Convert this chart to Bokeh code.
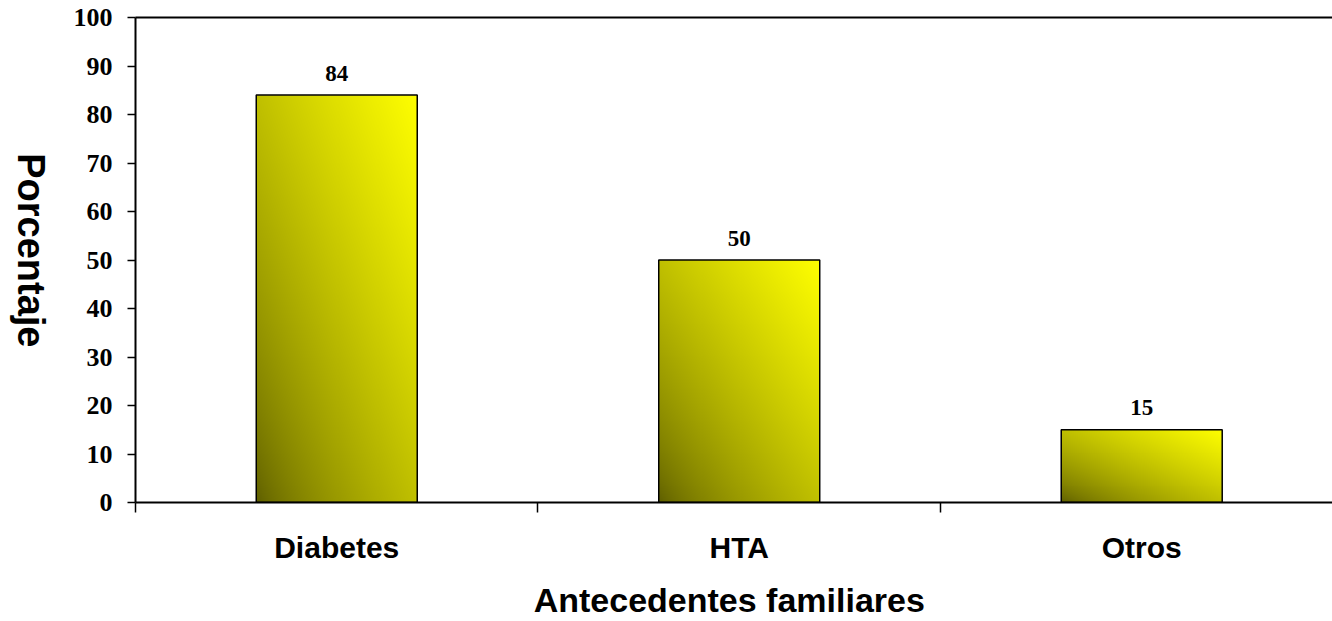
import numpy as np
from bokeh.plotting import figure
from bokeh.layouts import row
from bokeh.models import Range1d, FixedTicker, LinearAxis, ColumnDataSource
from bokeh.core.properties import value
from bokeh.embed import file_html
from bokeh.resources import INLINE

# Antecedentes familiares (%)
categories = ["Diabetes", "HTA", "Otros"]
percentages = [84, 50, 15]
y_ticks = list(range(0, 101, 10))

BAR_WIDTH = 0.4
DARK = (92, 92, 0)
BRIGHT = (255, 255, 0)

TITLE_W = 70          # width of the strip holding the y-axis title
TOTAL_W, TOTAL_H = 1332, 621
BORDER_TOP, BORDER_BOTTOM = 17, 118

xs = list(range(len(categories)))
boundaries = [i - 0.5 for i in range(len(categories) + 1)]


def gradient_image(height_units, rows_per_unit=5, cols=160):
    """Diagonal gradient: dark olive at bottom-left, bright yellow at top-right."""
    rows = max(int(height_units * rows_per_unit), 2)
    v = np.linspace(0.0, 1.0, rows)[:, None]
    u = np.linspace(0.0, 1.0, cols)[None, :]
    t = ((u + v) / 2.0) ** 0.7
    img = np.empty((rows, cols), dtype=np.uint32)
    view = img.view(dtype=np.uint8).reshape((rows, cols, 4))
    for k in range(3):
        view[..., k] = (DARK[k] + (BRIGHT[k] - DARK[k]) * t).astype(np.uint8)
    view[..., 3] = 255
    return img


# ---- narrow strip with the vertical y-axis title (reads top to bottom) ----
ttl = figure(
    width=TITLE_W, height=TOTAL_H,
    output_backend="svg", toolbar_location=None,
    x_range=Range1d(0, 1), y_range=Range1d(0, 100),
    min_border_left=0, min_border_right=0,
    min_border_top=BORDER_TOP, min_border_bottom=BORDER_BOTTOM,
)
ttl.axis.visible = False
ttl.grid.visible = False
ttl.outline_line_color = None
ttl.background_fill_color = "white"
ttl.border_fill_color = "white"
ttl.text(x=[0.43], y=[52], text=["Porcentaje"], angle=-np.pi / 2,
         text_align="center", text_baseline="middle",
         text_font=value("Liberation Sans"), text_font_style="bold",
         text_font_size="38px", text_color="black")

# ---- main bar chart ----
p = figure(
    width=TOTAL_W - TITLE_W, height=TOTAL_H,
    output_backend="svg", toolbar_location=None,
    x_range=Range1d(-0.5, 2.474), y_range=Range1d(0, 100),
    min_border_left=135 - TITLE_W, min_border_right=0,
    min_border_top=BORDER_TOP, min_border_bottom=BORDER_BOTTOM,
)
p.grid.visible = False
p.outline_line_color = None
p.background_fill_color = "white"
p.border_fill_color = "white"

# gradient-filled bars
img_src = ColumnDataSource(dict(
    image=[gradient_image(v) for v in percentages],
    x=[x - BAR_WIDTH / 2 for x in xs],
    y=[0] * len(xs),
    dw=[BAR_WIDTH] * len(xs),
    dh=percentages,
))
p.image_rgba(image="image", x="x", y="y", dw="dw", dh="dh", source=img_src)

bar_src = ColumnDataSource(dict(x=xs, top=percentages,
                                label=[str(v) for v in percentages]))
p.vbar(x="x", top="top", width=BAR_WIDTH, source=bar_src,
       fill_color=None, line_color="black", line_width=1.5)

# value labels above bars
p.text(x="x", y="top", text="label", source=bar_src,
       y_offset=-22, text_align="center", text_baseline="alphabetic",
       text_font=value("Liberation Serif"), text_font_style="bold",
       text_font_size="23px", text_color="black")

# y axis
ya = p.yaxis[0]
ya.ticker = FixedTicker(ticks=y_ticks)
ya.axis_line_width = 2
ya.axis_line_color = "black"
ya.major_tick_out = 8
ya.major_tick_in = 0
ya.major_tick_line_width = 1.5
ya.major_tick_line_color = "black"
ya.minor_tick_out = 0
ya.minor_tick_in = 0
ya.major_label_standoff = 15
ya.major_label_text_font = "Liberation Serif"
ya.major_label_text_font_style = "bold"
ya.major_label_text_font_size = "26px"
ya.major_label_text_color = "black"

# x axis: category names at centres, ticks at the category boundaries
xa = p.xaxis[0]
xa.ticker = FixedTicker(ticks=xs, minor_ticks=boundaries)
xa.major_label_overrides = {i: c for i, c in zip(xs, categories)}
xa.axis_line_width = 2
xa.axis_line_color = "black"
xa.major_tick_out = 0
xa.major_tick_in = 0
xa.minor_tick_out = 10
xa.minor_tick_in = 0
xa.minor_tick_line_width = 1.5
xa.minor_tick_line_color = "black"
xa.major_label_standoff = 18
xa.major_label_text_font = "Liberation Sans"
xa.major_label_text_font_style = "bold"
xa.major_label_text_font_size = "30px"
xa.major_label_text_color = "black"
xa.axis_label = "Antecedentes  familiares"
xa.axis_label_standoff = 14
xa.axis_label_text_font = "Liberation Sans"
xa.axis_label_text_font_style = "bold"
xa.axis_label_text_font_size = "34px"
xa.axis_label_text_color = "black"

# top border line of the plot area
top = LinearAxis(ticker=FixedTicker(ticks=[]), major_label_text_font_size="0px",
                 major_label_standoff=0, major_tick_out=0, major_tick_in=0,
                 minor_tick_out=0, minor_tick_in=0,
                 axis_line_width=2, axis_line_color="black")
p.add_layout(top, "above")

layout = row(ttl, p, spacing=0)
open("out.html", "w").write(file_html(layout, INLINE))
